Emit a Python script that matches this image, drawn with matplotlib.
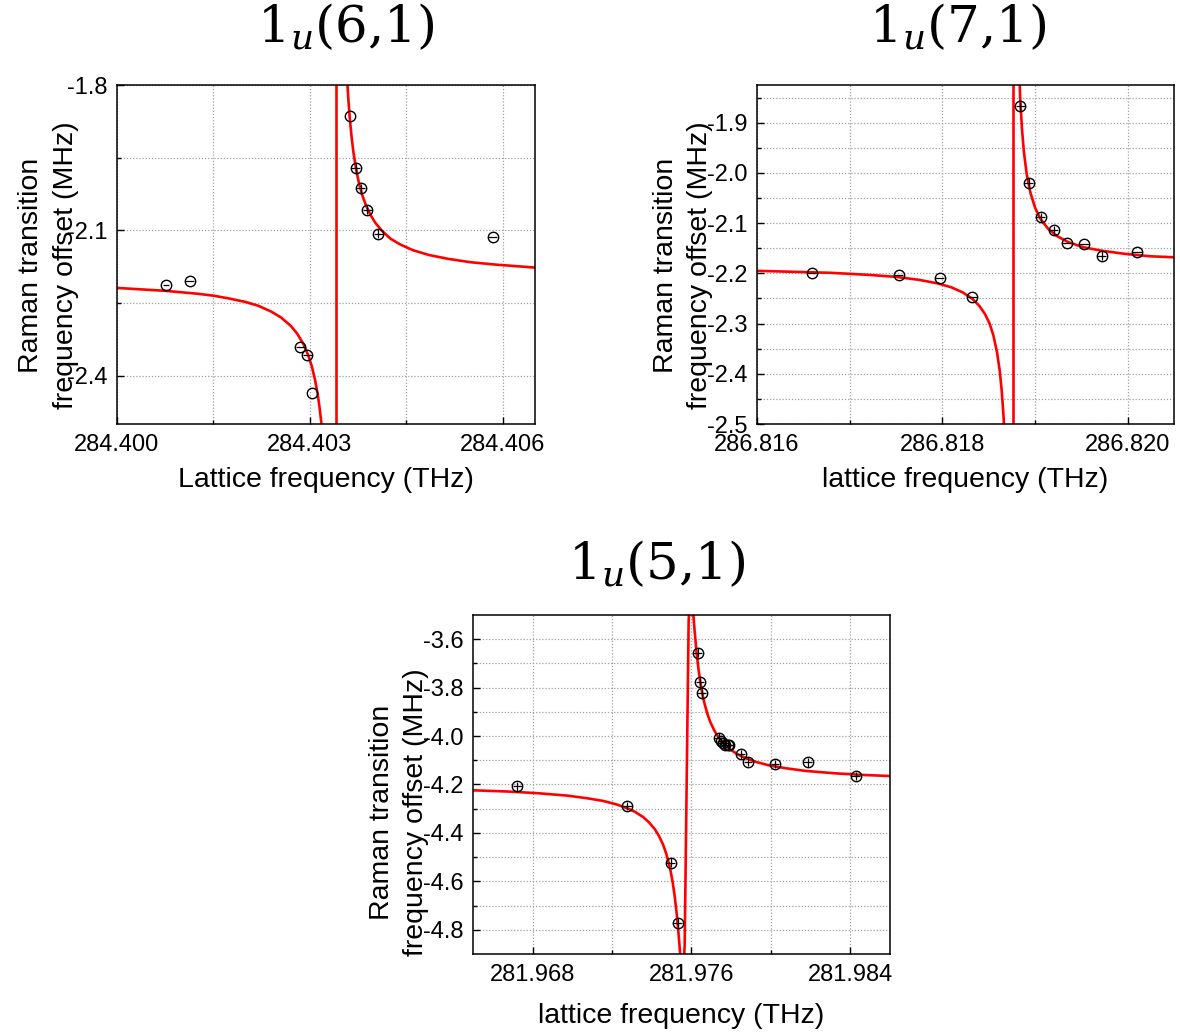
import matplotlib
matplotlib.use("Agg")
import matplotlib.pyplot as plt

plt.rcParams["font.family"] = ["Liberation Sans", "DejaVu Sans"]
plt.rcParams["mathtext.fontset"] = "dejavuserif"
plt.rcParams["axes.unicode_minus"] = False

# ---- 1u(6,1) ----
freq_61 = [284.40076, 284.40113, 284.40285, 284.40296, 284.40303, 284.40363,
           284.40371, 284.40379, 284.40389, 284.40406, 284.40584]
shift_61 = [-2.212, -2.205, -2.341, -2.358, -2.435, -1.863,
            -1.972, -2.013, -2.058, -2.107, -2.114]
xerr_61 = [0.00005, 0.00007, 0.00007, 0.00007, 0.0, 0.0,
           0.00007, 0.00007, 0.00007, 0.00007, 0.00007]
yerr_61 = [0.0, 0.0, 0.0, 0.0, 0.0, 0.0, 0.009, 0.009, 0.009, 0.009, 0.0]
fit_low_x_61 = [284.40000, 284.40025, 284.40050, 284.40075, 284.40100, 284.40125,
                284.40150, 284.40175, 284.40200, 284.40220, 284.40240, 284.40255,
                284.40270, 284.40280, 284.40290, 284.40297, 284.40303, 284.40308,
                284.40312, 284.40315, 284.40318, 284.40322]
fit_low_y_61 = [-2.219, -2.221, -2.223, -2.225, -2.228, -2.231,
                -2.235, -2.241, -2.248, -2.256, -2.268, -2.280,
                -2.297, -2.313, -2.335, -2.357, -2.381, -2.409,
                -2.438, -2.466, -2.500, -2.564]
fit_high_x_61 = [284.40356, 284.40358, 284.40360, 284.40362, 284.40365, 284.40368,
                 284.40372, 284.40376, 284.40381, 284.40387, 284.40394, 284.40402,
                 284.40412, 284.40425, 284.40440, 284.40460, 284.40485, 284.40515,
                 284.40550, 284.40590, 284.40630, 284.40650]
fit_high_y_61 = [-1.737, -1.791, -1.834, -1.869, -1.910, -1.942,
                 -1.975, -2.001, -2.026, -2.048, -2.068, -2.085,
                 -2.101, -2.117, -2.129, -2.141, -2.151, -2.159,
                 -2.166, -2.171, -2.175, -2.177]
pole_61 = 284.40341
xlim_61 = (284.400, 284.4065)
ylim_61 = (-2.5, -1.8)
xticks_61 = [284.400, 284.403, 284.406]
xticklabels_61 = ["284.400", "284.403", "284.406"]
xminor_61 = [284.4015, 284.4045]
yticks_61 = [-2.4, -2.1, -1.8]
yticklabels_61 = ["-2.4", "-2.1", "-1.8"]
yminor_61 = [-2.25, -1.95]

# ---- 1u(7,1) ----
freq_71 = [286.81659, 286.81753, 286.81797, 286.81832, 286.81884, 286.81893,
           286.81906, 286.81920, 286.81934, 286.81953, 286.81972, 286.82010]
shift_71 = [-2.200, -2.203, -2.210, -2.247, -1.867, -2.020,
            -2.088, -2.114, -2.139, -2.141, -2.165, -2.157]
xerr_71 = [0.00005] * 12
yerr_71 = [0.0, 0.0, 0.0, 0.0, 0.009, 0.009, 0.009, 0.009, 0.0, 0.0, 0.009, 0.0]
fit_low_x_71 = [286.81600, 286.81640, 286.81680, 286.81720, 286.81750, 286.81775,
                286.81795, 286.81810, 286.81822, 286.81832, 286.81840, 286.81846,
                286.81851, 286.81855, 286.81859, 286.81862, 286.81864, 286.81866,
                286.81868]
fit_low_y_71 = [-2.195, -2.197, -2.199, -2.203, -2.207, -2.213,
                -2.220, -2.228, -2.238, -2.250, -2.265, -2.281,
                -2.300, -2.323, -2.357, -2.395, -2.432, -2.483,
                -2.563]
fit_high_x_71 = [286.81882, 286.81884, 286.81886, 286.81888, 286.81891, 286.81895,
                 286.81900, 286.81906, 286.81914, 286.81924, 286.81936, 286.81952,
                 286.81972, 286.81996, 286.82024, 286.82050]
fit_high_y_71 = [-1.748, -1.851, -1.914, -1.958, -2.002, -2.039,
                 -2.069, -2.092, -2.111, -2.126, -2.138, -2.148,
                 -2.155, -2.161, -2.166, -2.168]
pole_71 = 286.81876
xlim_71 = (286.816, 286.8205)
ylim_71 = (-2.5, -1.825)
xticks_71 = [286.816, 286.818, 286.820]
xticklabels_71 = ["286.816", "286.818", "286.820"]
xminor_71 = [286.817, 286.819]
yticks_71 = [-2.5, -2.4, -2.3, -2.2, -2.1, -2.0, -1.9]
yticklabels_71 = ["-2.5", "-2.4", "-2.3", "-2.2", "-2.1", "-2.0", "-1.9"]
yminor_71 = [-2.45, -2.35, -2.25, -2.15, -2.05, -1.95, -1.85]

# ---- 1u(5,1) ----
freq_51 = [281.96723, 281.97277, 281.97495, 281.97530, 281.97631, 281.97643,
           281.97651, 281.97737, 281.97749, 281.97760, 281.97771, 281.97782,
           281.97790, 281.97850, 281.97885, 281.98021, 281.98185, 281.98427]
shift_51 = [-4.208, -4.289, -4.523, -4.771, -3.656, -3.777,
            -3.823, -4.007, -4.020, -4.030, -4.037, -4.038,
            -4.035, -4.075, -4.107, -4.115, -4.108, -4.165]
xerr_51 = [0.00022] * 18
yerr_51 = [0.018] * 18
fit_x_51 = [281.96500, 281.96676, 281.96826, 281.96976, 281.97076, 281.97156, 281.97226,
            281.97276, 281.97316, 281.97356, 281.97386, 281.97416, 281.97436, 281.97456,
            281.97471, 281.97486, 281.97496, 281.97506, 281.97516, 281.97526, 281.97536,
            281.97546, 281.97556, 281.97566, 281.97576, 281.97586, 281.97596, 281.97606,
            281.97616, 281.97626, 281.97636, 281.97646, 281.97656, 281.97666, 281.97681,
            281.97696, 281.97716, 281.97736, 281.97766, 281.97796, 281.97836, 281.97876,
            281.97926, 281.97996, 281.98076, 281.98176, 281.98326, 281.98476, 281.98600]
fit_y_51 = [-4.224, -4.229, -4.236, -4.246, -4.257, -4.268, -4.283,
            -4.298, -4.313, -4.334, -4.356, -4.385, -4.412, -4.446,
            -4.480, -4.524, -4.561, -4.606, -4.663, -4.735, -4.825,
            -4.930, -5.007, -4.865, -4.195, -3.525, -3.383, -3.460,
            -3.565, -3.655, -3.727, -3.784, -3.829, -3.866, -3.910,
            -3.944, -3.978, -4.005, -4.034, -4.056, -4.077, -4.092,
            -4.107, -4.122, -4.133, -4.144, -4.154, -4.161, -4.165]
xlim_51 = (281.965, 281.986)
ylim_51 = (-4.9, -3.5)
xticks_51 = [281.968, 281.976, 281.984]
xticklabels_51 = ["281.968", "281.976", "281.984"]
xminor_51 = [281.972, 281.980]
yticks_51 = [-4.8, -4.6, -4.4, -4.2, -4.0, -3.8, -3.6]
yticklabels_51 = ["-4.8", "-4.6", "-4.4", "-4.2", "-4.0", "-3.8", "-3.6"]
yminor_51 = [-4.7, -4.5, -4.3, -4.1, -3.9, -3.7]

ylabel = "Raman transition\nfrequency offset (MHz)"


def style_axes(ax, xlim, ylim, xt, xtl, xmin, yt, ytl, ymin, xlabel, labelpad):
    ax.set_xlim(xlim)
    ax.set_ylim(ylim)
    ax.set_xticks(xt)
    ax.set_xticklabels(xtl)
    ax.set_xticks(xmin, minor=True)
    ax.set_yticks(yt)
    ax.set_yticklabels(ytl)
    ax.set_yticks(ymin, minor=True)
    ax.tick_params(which="both", direction="in", labelsize=17, pad=7, width=1.0)
    ax.tick_params(which="major", length=5)
    ax.tick_params(which="minor", length=3)
    ax.grid(which="both", color="#a0a0a0", linestyle=(0, (1, 1.5)), linewidth=0.9)
    ax.set_axisbelow(True)
    for s in ax.spines.values():
        s.set_linewidth(1.1)
    ax.set_xlabel(xlabel, fontsize=20.5, labelpad=labelpad)
    ax.set_ylabel(ylabel, fontsize=20.5, linespacing=1.42)


def draw_points(ax, x, y, xe, ye):
    ax.errorbar(x, y, xerr=xe, yerr=ye, fmt="o", ms=7.5, mfc="none", mec="black",
                mew=1.0, ecolor="black", elinewidth=0.9, capsize=0, zorder=3)


fig = plt.figure(figsize=(11.8, 10.33), dpi=100)

ax1 = fig.add_axes([0.09915, 0.58954, 0.35424, 0.32817])
ax2 = fig.add_axes([0.64153, 0.58954, 0.35339, 0.32817])
ax3 = fig.add_axes([0.40085, 0.07648, 0.35339, 0.32817])

# panel 1
ax1.plot(fit_low_x_61, fit_low_y_61, color="red", lw=1.9, zorder=2)
ax1.plot(fit_high_x_61, fit_high_y_61, color="red", lw=1.9, zorder=2)
ax1.axvline(pole_61, color="red", lw=1.9, zorder=2)
draw_points(ax1, freq_61, shift_61, xerr_61, yerr_61)
style_axes(ax1, xlim_61, ylim_61, xticks_61, xticklabels_61, xminor_61,
           yticks_61, yticklabels_61, yminor_61, "Lattice frequency (THz)", 8)
ax1.yaxis.set_label_coords(-0.092, 0.469)

# panel 2
ax2.plot(fit_low_x_71, fit_low_y_71, color="red", lw=1.9, zorder=2)
ax2.plot(fit_high_x_71, fit_high_y_71, color="red", lw=1.9, zorder=2)
ax2.axvline(pole_71, color="red", lw=1.9, zorder=2)
draw_points(ax2, freq_71, shift_71, xerr_71, yerr_71)
style_axes(ax2, xlim_71, ylim_71, xticks_71, xticklabels_71, xminor_71,
           yticks_71, yticklabels_71, yminor_71, "lattice frequency (THz)", 8)
ax2.yaxis.set_label_coords(-0.105, 0.469)

# panel 3
ax3.plot(fit_x_51, fit_y_51, color="red", lw=1.9, zorder=2)
draw_points(ax3, freq_51, shift_51, xerr_51, yerr_51)
style_axes(ax3, xlim_51, ylim_51, xticks_51, xticklabels_51, xminor_51,
           yticks_51, yticklabels_51, yminor_51, "lattice frequency (THz)", 12.5)
ax3.yaxis.set_label_coords(-0.105, 0.419)

# titles
fig.text(346 / 1180, 1 - 43 / 1033, r"$1_u(6{,}1)$", fontsize=37, ha="center", va="baseline")
fig.text(958 / 1180, 1 - 43 / 1033, r"$1_u(7{,}1)$", fontsize=37, ha="center", va="baseline")
fig.text(657 / 1180, 1 - 580 / 1033, r"$1_u(5{,}1)$", fontsize=37, ha="center", va="baseline")

fig.savefig("out.png", dpi=100)
